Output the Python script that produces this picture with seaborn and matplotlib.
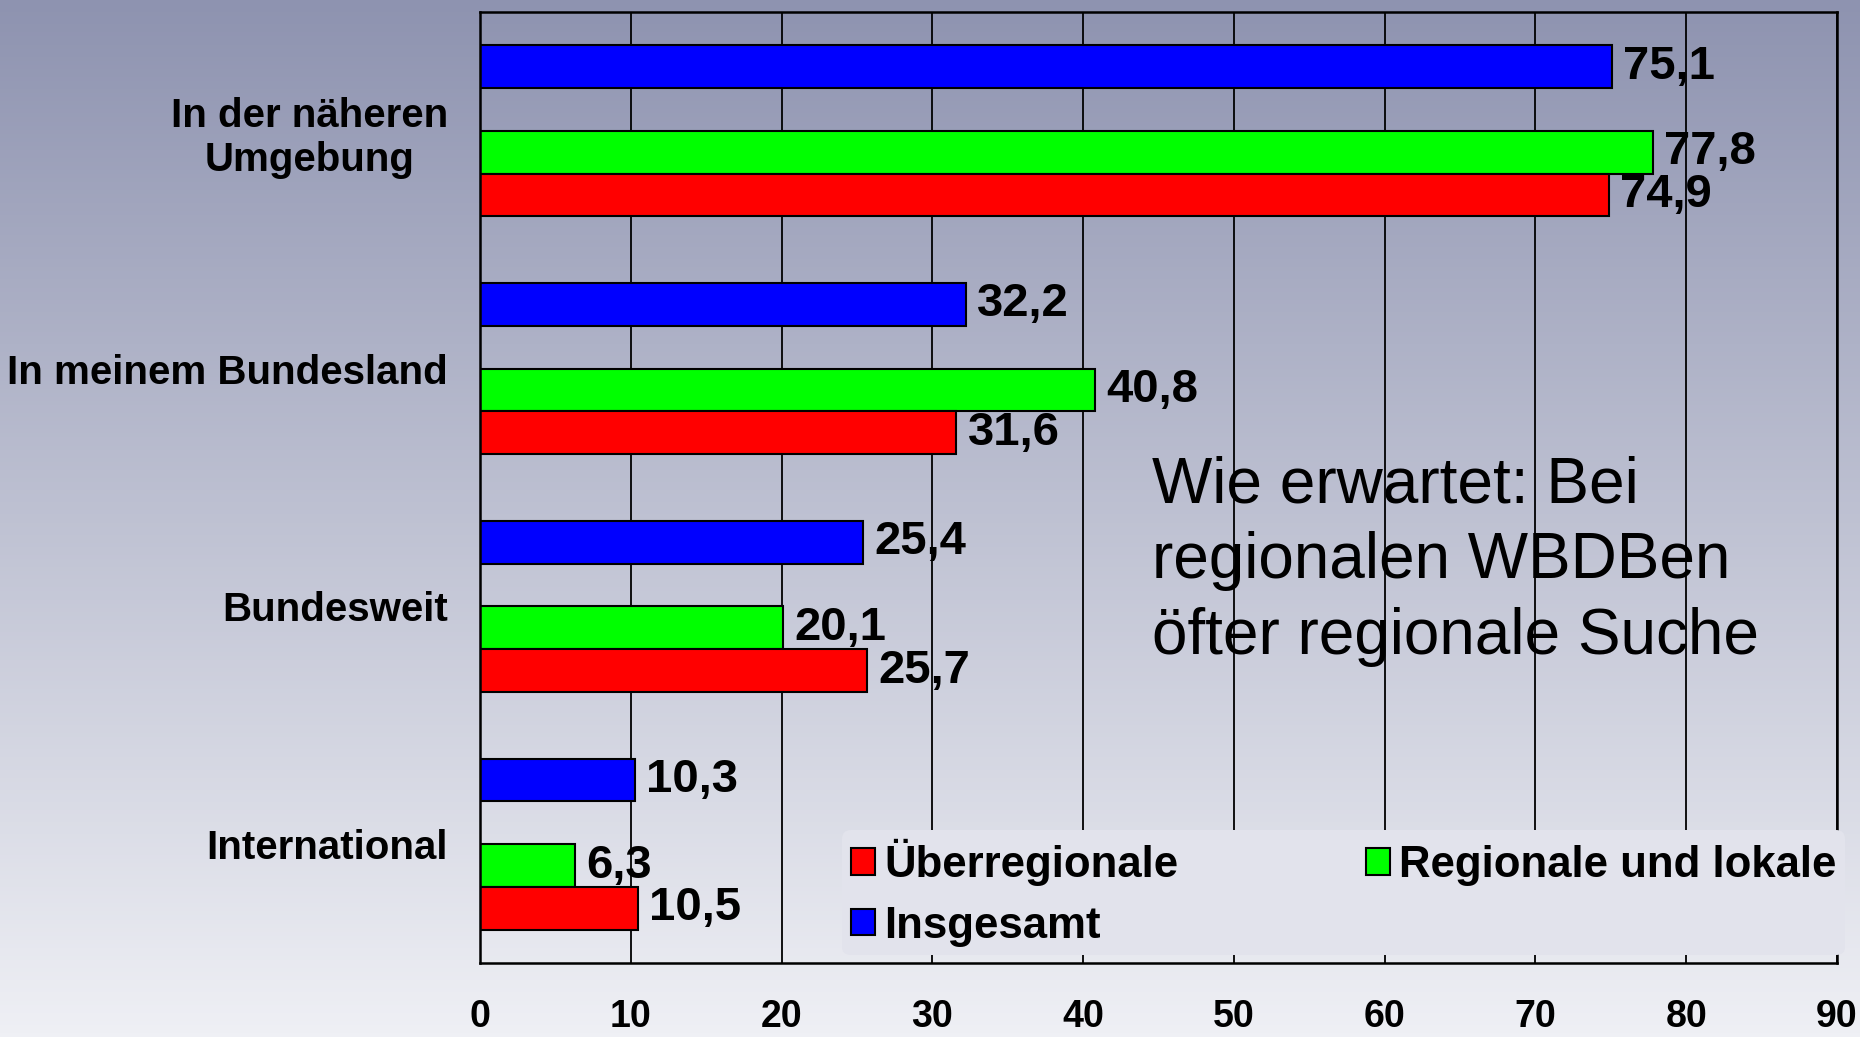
import numpy as np
import pandas as pd
import seaborn as sns
import matplotlib.pyplot as plt
from matplotlib.patches import Patch
from matplotlib.colors import to_rgb

# data
categories = ["In der näheren\nUmgebung", "In meinem Bundesland", "Bundesweit", "International"]
insgesamt = [75.1, 32.2, 25.4, 10.3]
regional_lokal = [77.8, 40.8, 20.1, 6.3]
ueberregional = [74.9, 31.6, 25.7, 10.5]
x_ticks = [0, 10, 20, 30, 40, 50, 60, 70, 80, 90]
note = "Wie erwartet: Bei\nregionalen WBDBen\nöfter regionale Suche"

groups = {"Insgesamt": insgesamt,
          "Regionale und lokale": regional_lokal,
          "Überregionale": ueberregional}
colors = {"Insgesamt": "#0000ff", "_gap": "#ffffff",
          "Regionale und lokale": "#00ff00", "Überregionale": "#ff0000"}

rows = []
for name, vals in groups.items():
    for cat, v in zip(categories, vals):
        rows.append({"Kategorie": cat, "Wert": v, "Gruppe": name})
df = pd.DataFrame(rows)

sns.set_style("white")
plt.rcParams['font.family'] = ['Liberation Sans', 'DejaVu Sans']
plt.rcParams['text.color'] = 'black'
plt.rcParams['xtick.color'] = 'black'
plt.rcParams['ytick.color'] = 'black'
plt.rcParams['xtick.labelcolor'] = 'black'
plt.rcParams['ytick.labelcolor'] = 'black'

W, H = 1860, 1037
fig = plt.figure(figsize=(W / 100, H / 100), dpi=100)

# vertical gradient background
top_c = np.array(to_rgb("#8e93b0"))
bot_c = np.array(to_rgb("#eff0f5"))
t = np.linspace(0, 1, 256)[:, None]
grad = top_c[None, :] * (1 - t) + bot_c[None, :] * t
bg = fig.add_axes([0, 0, 1, 1], zorder=-10)
bg.imshow(grad[:, None, :], aspect="auto", extent=[0, 1, 0, 1])
bg.axis("off")

ax = fig.add_axes([480 / W, 1 - 963 / H, 1357 / W, 951 / H])
ax.set_facecolor("none")

# "_gap" keeps an empty slot between blue and green like the original
sns.barplot(data=df, y="Kategorie", x="Wert", hue="Gruppe",
            hue_order=["Insgesamt", "_gap", "Regionale und lokale", "Überregionale"],
            order=categories, palette=colors, saturation=1, width=0.72,
            edgecolor="black", linewidth=1.5, orient="h", legend=False, ax=ax)

for c in ax.containers:
    labels = [f"{v:.1f}".replace(".", ",") for v in c.datavalues]
    ax.bar_label(c, labels=labels, padding=8, fontsize=34, fontweight="bold",
                 color="black")

ax.set_xlim(0, 90)
ax.set_ylim(3.5, -0.5)
ax.set_xticks(x_ticks)
ax.set_xticklabels([str(v) for v in x_ticks], fontsize=27, fontweight="bold")
ax.set_yticks(range(len(categories)))
ax.set_yticklabels(categories, fontsize=29, fontweight="bold")
for lab in ax.get_yticklabels():
    lab.set_multialignment("center")
ax.set_yticks([-0.5, 0.5, 1.5, 2.5, 3.5], minor=True)
ax.tick_params(axis="y", which="major", length=0, pad=23)
ax.tick_params(axis="y", which="minor", length=8, width=1.3, color="black", direction="out")
ax.tick_params(axis="x", length=14, width=1.3, color="black", direction="inout", pad=19)
ax.set_xlabel("")
ax.set_ylabel("")

ax.set_axisbelow(True)
ax.xaxis.grid(True, color="black", linewidth=1.3)
for s in ax.spines.values():
    s.set_visible(True)
    s.set_color("black")
    s.set_linewidth(1.8)

ax.text(44.6, 1.81, note, fontsize=46, va="center", ha="left", linespacing=1.33,
        color="black")

handles = [Patch(facecolor=colors[k], edgecolor="black", linewidth=1.5)
           for k in ["Überregionale", "Insgesamt", "Regionale und lokale"]]
leg_face = tuple(top_c * (1 - 0.865) + bot_c * 0.865)
leg = ax.legend(handles, ["Überregionale", "Insgesamt", "Regionale und lokale"],
                ncol=2, loc="lower left", bbox_to_anchor=(0.251, -0.015),
                prop={"size": 31.5, "weight": "bold"}, frameon=True,
                facecolor=leg_face, edgecolor="none", framealpha=1,
                handlelength=0.55, handleheight=0.55, handletextpad=0.2,
                columnspacing=4.3, labelspacing=0.45, borderpad=0.2)
leg.set_zorder(5)

fig.savefig("out.png", dpi=100)
